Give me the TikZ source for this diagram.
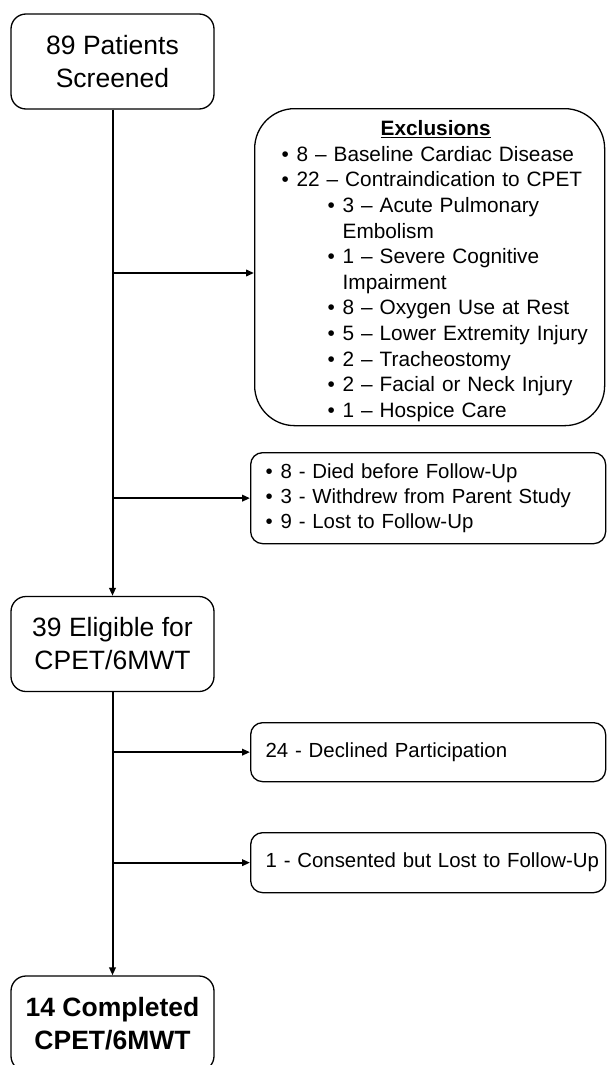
\documentclass[tikz,border=0pt]{standalone}
\usepackage{fontspec}
\setmainfont{Liberation Sans}
\usetikzlibrary{arrows.meta}
\newcommand{\blt}[1]{\mbox{\makebox[15pt][l]{\textbullet}#1}}
\newcommand{\subblt}[1]{\mbox{\hspace*{46pt}\makebox[15pt][l]{\textbullet}#1}}
\newcommand{\subcont}[1]{\mbox{\hspace*{61pt}#1}}
\begin{document}
\begin{tikzpicture}[x=1pt,y=-1pt]
\tikzstyle{stage}=[draw,line width=1.3pt,rounded corners=15pt,minimum width=203pt,minimum height=95pt,inner sep=0pt,align=center,font=\fontsize{26.5}{33}\selectfont]
\tikzstyle{side}=[draw,line width=1.3pt,rounded corners=12pt,anchor=north west,minimum width=355pt,text width=325pt,inner xsep=15pt,inner ysep=0pt,align=left,font=\fontsize{20.4}{25}\selectfont]
\tikzstyle{flow}=[draw,line width=2pt,-{Triangle[length=8pt,width=6.5pt]}]
\def \trunk {112.5}
\useasboundingbox (0,0) rectangle (606,1065);
\node[stage] (screened) at (\trunk,61.5) {89 Patients\\Screened};
\node[stage] (eligible) at (\trunk,644) {39 Eligible for\\CPET/6MWT};
\node[stage] (completed) at (\trunk,1023.5) {\textbf{14 Completed}\\\textbf{CPET/6MWT}};
\node[draw,line width=1.3pt,rounded corners=40pt,anchor=north west,minimum height=317pt,text width=296pt,inner xsep=27pt,inner ysep=0pt,align=left,font=\fontsize{20.8}{25.6}\selectfont] (excl) at (254,108) {\mbox{\rule{0pt}{23pt}\hspace*{6pt}\makebox[296pt]{\textbf{\underline{Exclusions}}}}\\
\blt{8 – Baseline Cardiac Disease}\\
\blt{22 – Contraindication to CPET}\\
\subblt{3 – Acute Pulmonary}\\
\subcont{Embolism}\\
\subblt{1 – Severe Cognitive}\\
\subcont{Impairment}\\
\subblt{8 – Oxygen Use at Rest}\\
\subblt{5 – Lower Extremity Injury}\\
\subblt{2 – Tracheostomy}\\
\subblt{2 – Facial or Neck Injury}\\
\subblt{1 – Hospice Care}};
\node[side,minimum height=91pt] (lost) at (250,452) {\blt{8 - Died before Follow-Up}\\
\blt{3 - Withdrew from Parent Study}\\
\blt{9 - Lost to Follow-Up}};
\node[side,minimum height=59pt] (declined) at (250,722) {\mbox{24 - Declined Participation}};
\node[side,minimum height=60pt] (consented) at (250,832) {\mbox{1 - Consented but Lost to Follow-Up}};
\coordinate (b1) at (\trunk,273);
\path[flow] (screened) -- (eligible);
\path[flow] (eligible) -- (completed);
\path[flow] (b1) -- (b1 -| excl.west);
\path[flow] (lost.west -| screened.south) -- (lost.west);
\path[flow] (declined.west -| eligible.south) -- (declined.west);
\path[flow] (consented.west -| eligible.south) -- (consented.west);
\end{tikzpicture}
\end{document}
